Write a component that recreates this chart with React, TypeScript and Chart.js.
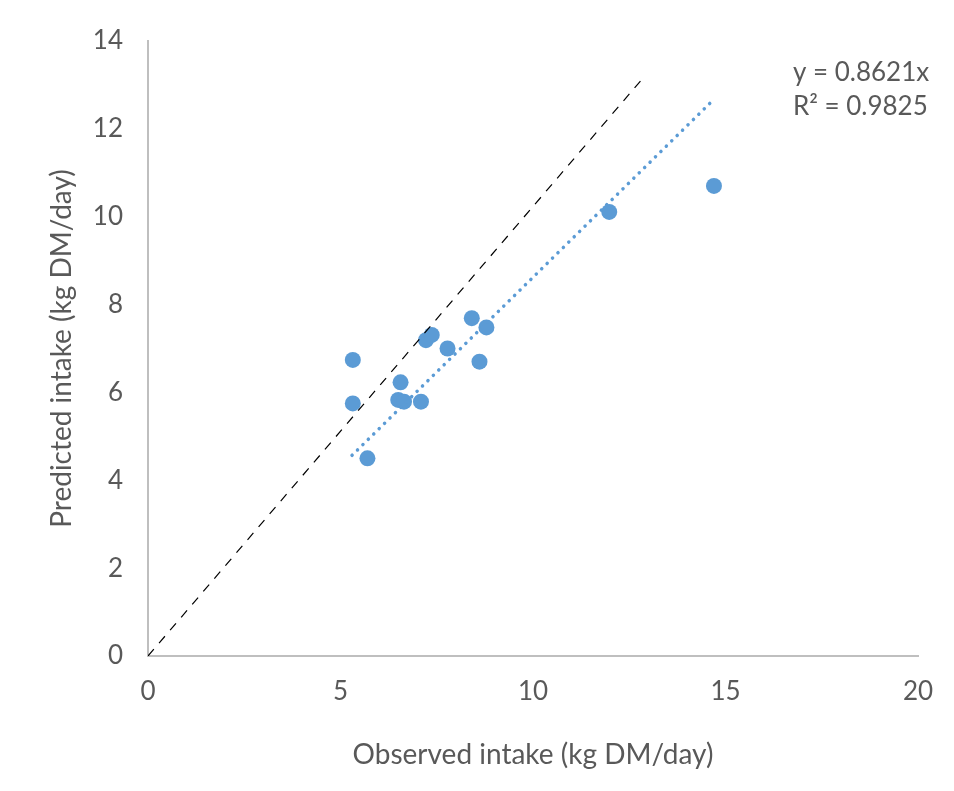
import React, { useEffect, useRef } from "react";
import { Chart, registerables } from "chart.js";

Chart.register(...registerables);

const observed = [5.32, 5.32, 5.70, 6.56, 6.50, 6.65, 7.09, 7.22, 7.37, 7.78, 8.41, 8.61, 8.79, 11.98, 14.70];
const predicted = [6.74, 5.75, 4.50, 6.23, 5.83, 5.79, 5.79, 7.19, 7.31, 7.00, 7.69, 6.70, 7.48, 10.11, 10.70];
const slope = 0.8621;
const trendX = [5.3, 14.6];
const oneToOneX = [0, 12.9];
const oneToOneY = [0, 13.2];
const equationLines = ["y = 0.8621x", "R² = 0.9825"];
const xTitle = "Observed intake (kg DM/day)";
const yTitle = "Predicted intake (kg DM/day)";

const FONT = "Lato, 'Open Sans', sans-serif";
const GREY = "#595959";
const BLUE = "#5B9BD5";

const equationPlugin = {
  id: "equation",
  afterDraw(chart: any) {
    const ctx = chart.ctx;
    ctx.save();
    ctx.fillStyle = GREY;
    ctx.font = `26px ${FONT}`;
    ctx.textAlign = "left";
    ctx.textBaseline = "middle";
    const xs = chart.scales.x;
    const ys = chart.scales.y;
    const x0 = xs.getPixelForValue(16.75);
    const y0 = ys.getPixelForValue(13.27);
    ctx.fillText(equationLines[0], x0, y0);
    ctx.fillText(equationLines[1], x0, y0 + 34);
    ctx.restore();
  },
};

export default function App() {
  const ref = useRef<HTMLCanvasElement | null>(null);
  useEffect(() => {
    document.body.style.margin = "0";
    const canvas = ref.current!;
    const chart = new Chart(canvas, {
      type: "scatter",
      data: {
        datasets: [
          {
            label: "1:1",
            type: "line",
            data: oneToOneX.map((x, i) => ({ x, y: oneToOneY[i] })),
            borderColor: "#000000",
            borderWidth: 1.2,
            borderDash: [9, 8],
            pointRadius: 0,
            fill: false,
          } as any,
          {
            label: "Trend",
            type: "line",
            data: trendX.map((x) => ({ x, y: slope * x })),
            borderColor: BLUE,
            borderWidth: 3.5,
            borderDash: [0.1, 7.5],
            borderCapStyle: "round",
            pointRadius: 0,
            fill: false,
          } as any,
          {
            label: "Data",
            data: observed.map((x, i) => ({ x, y: predicted[i] })),
            backgroundColor: BLUE,
            borderColor: BLUE,
            pointRadius: 8,
            pointBorderWidth: 0,
          },
        ],
      },
      options: {
        animation: false,
        responsive: false,
        maintainAspectRatio: false,
        layout: { padding: { left: 0, right: 36, top: 41, bottom: 0 } },
        plugins: { legend: { display: false }, tooltip: { enabled: false } },
        scales: {
          x: {
            type: "linear",
            min: 0,
            max: 20,
            ticks: { stepSize: 5, color: GREY, font: { family: FONT, size: 26 }, padding: 20 },
            grid: { display: false, drawTicks: false },
            border: { display: true, color: "#BFBFBF", width: 2 },
            title: { display: true, text: xTitle, color: GREY, font: { family: FONT, size: 28 }, padding: { top: 0, bottom: 19 } },
            afterFit: (s: any) => { s.height = 135; },
          },
          y: {
            type: "linear",
            min: 0,
            max: 14,
            ticks: { stepSize: 2, color: GREY, font: { family: FONT, size: 26 }, padding: 25 },
            grid: { display: false, drawTicks: false },
            border: { display: true, color: "#BFBFBF", width: 2 },
            title: { display: true, text: yTitle, color: GREY, font: { family: FONT, size: 28 }, padding: { top: 45, bottom: 0 } },
            afterFit: (s: any) => { s.width = 148; },
          },
        },
      },
      plugins: [equationPlugin],
    });
    return () => chart.destroy();
  }, []);
  return (
    <div style={{ width: 954, height: 791, background: "#fff" }}>
      <canvas ref={ref} width={954} height={791} style={{ display: "block" }} />
    </div>
  );
}
